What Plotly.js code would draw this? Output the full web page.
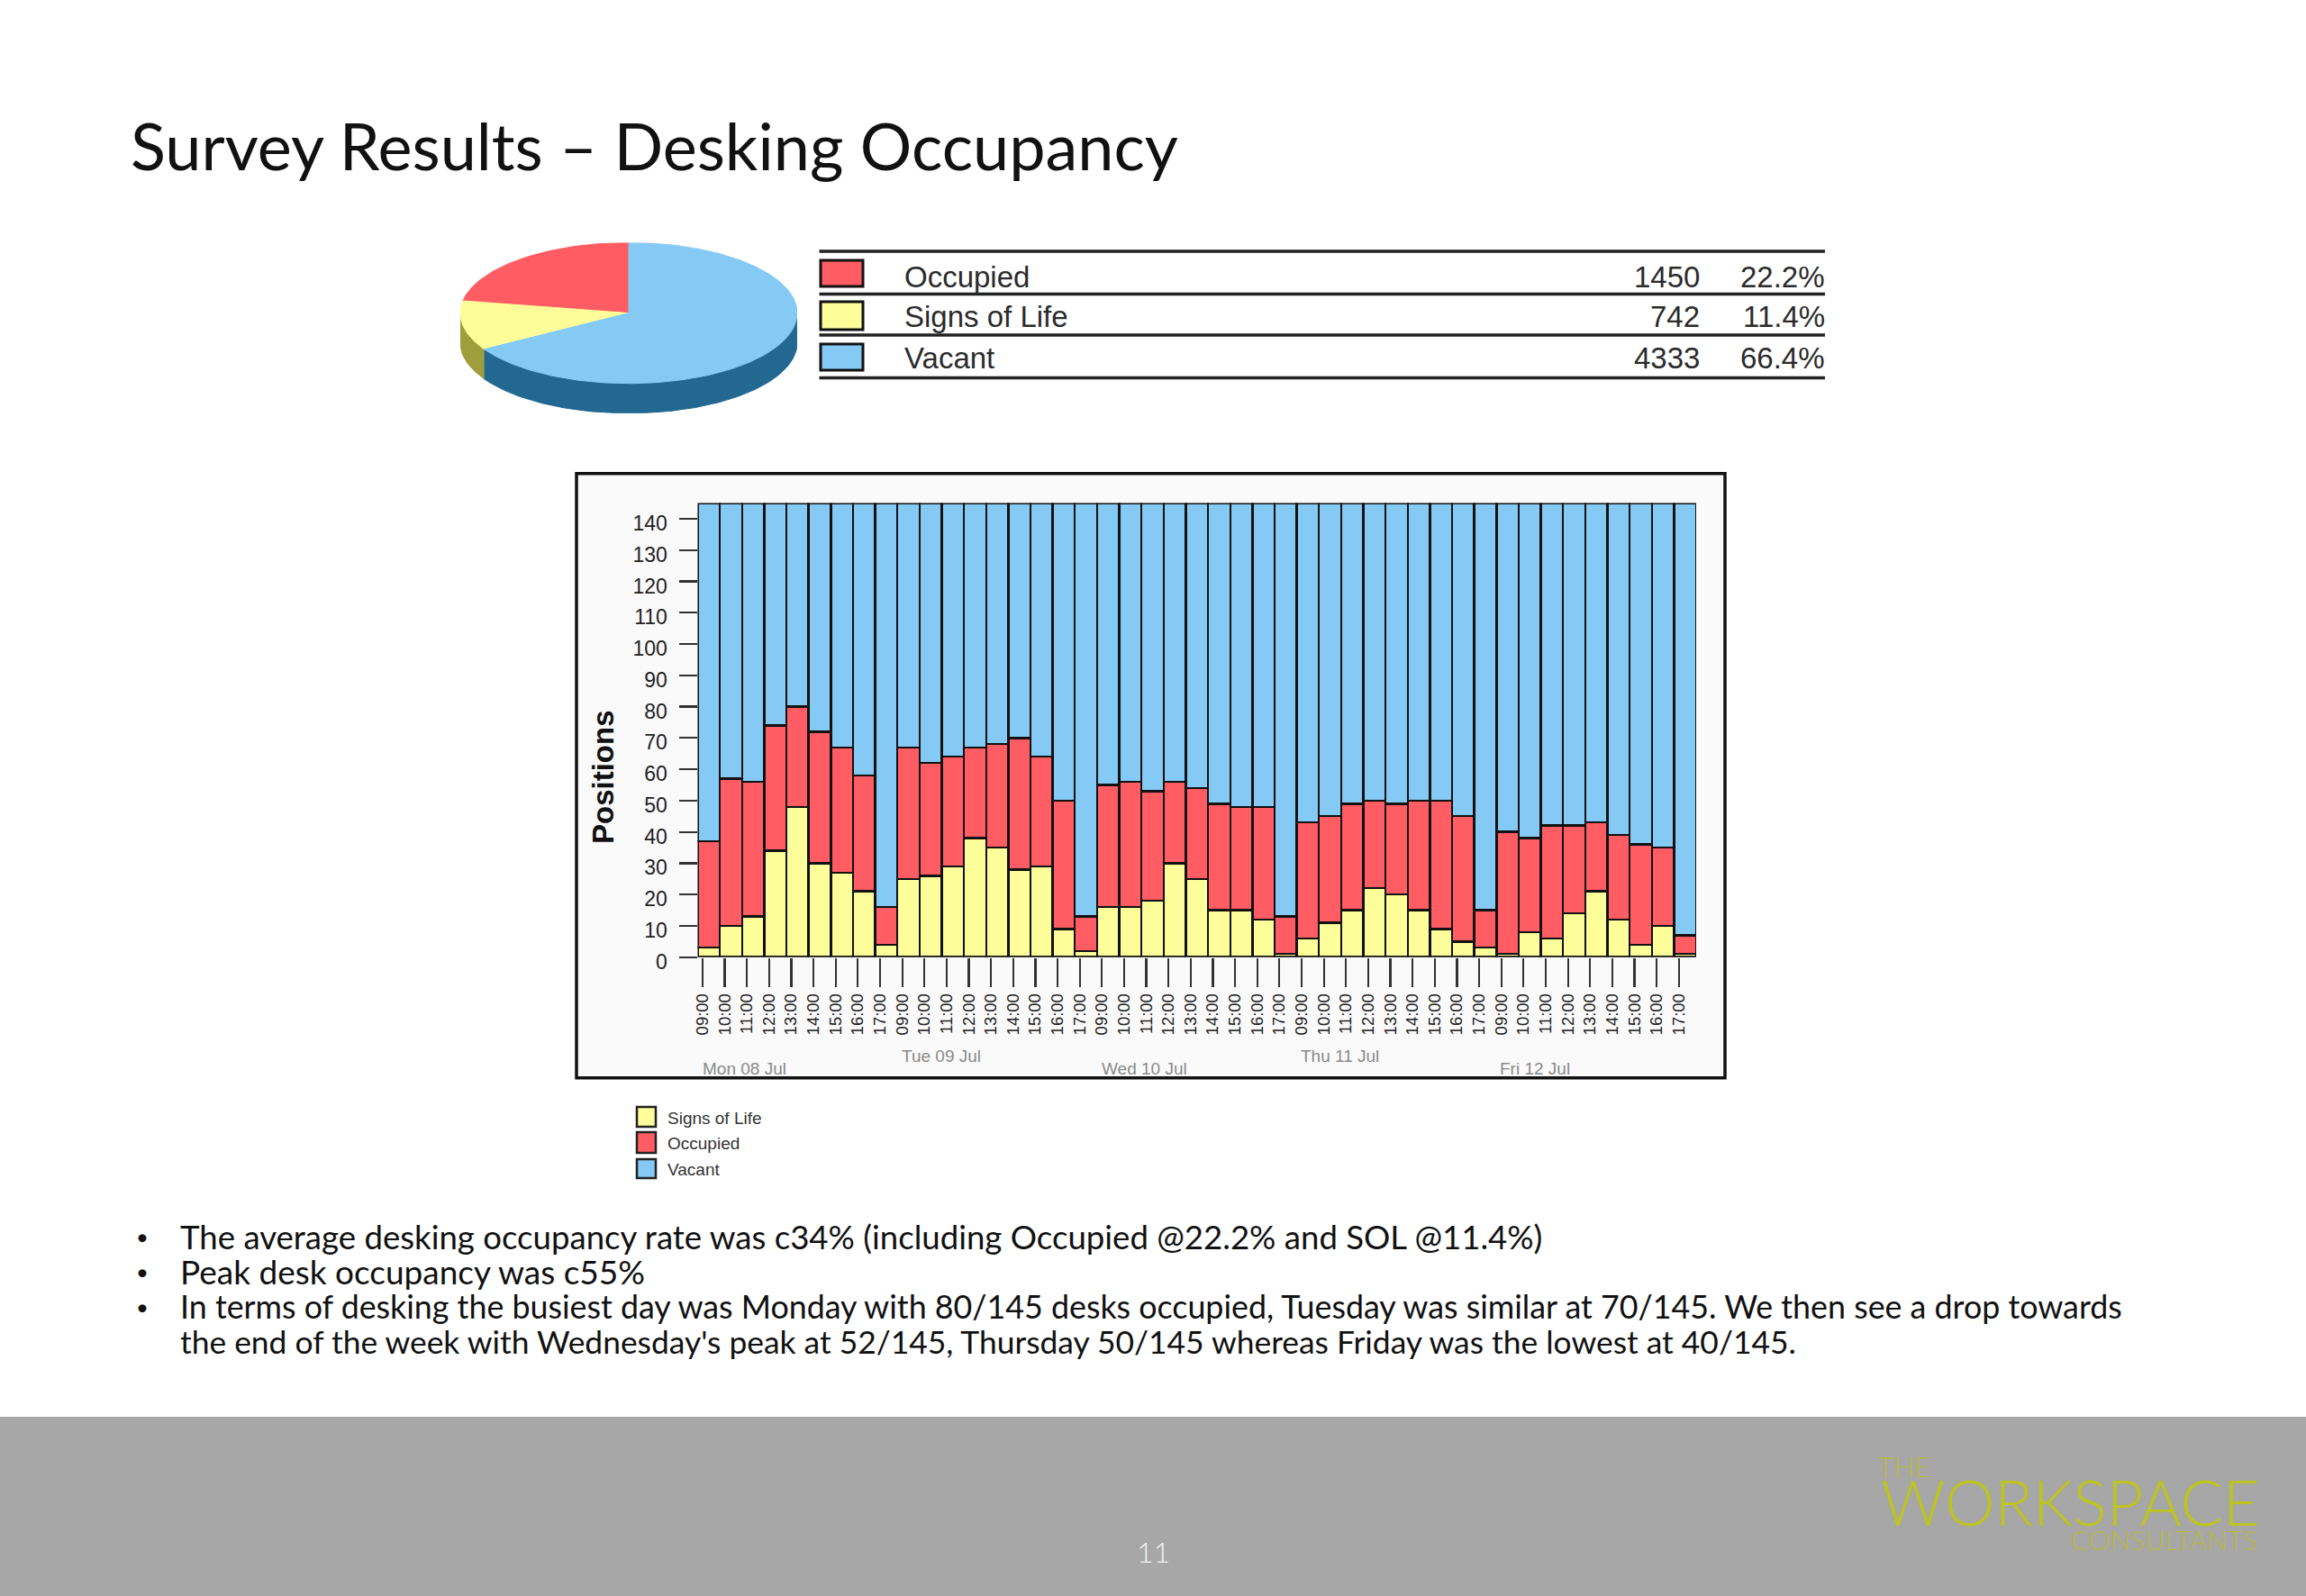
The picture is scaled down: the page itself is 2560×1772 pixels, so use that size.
<!DOCTYPE html>
<html><head><meta charset="utf-8">
<script src="https://cdn.plot.ly/plotly-3.0.1.min.js"></script>
<style>html,body{margin:0;padding:0;background:#fff}#c{width:2560px;height:1772px}</style></head>
<body><div id="c"></div>
<script>
const hours = ["09:00","10:00","11:00","12:00","13:00","14:00","15:00","16:00","17:00"];
const days = ["Mon 08 Jul","Tue 09 Jul","Wed 10 Jul","Thu 11 Jul","Fri 12 Jul"];
const signsOfLife = [3,10,13,34,48,30,27,21,4, 25,26,29,38,35,28,29,9,2, 16,16,18,30,25,15,15,12,1, 6,11,15,22,20,15,9,5,3, 1,8,6,14,21,12,4,10,1];
const occupied = [34,47,43,40,32,42,40,37,12, 42,36,35,29,33,42,35,41,11, 39,40,35,26,29,34,33,36,12, 37,34,34,28,29,35,41,40,12, 39,30,36,28,22,27,32,25,6];
const vacant = [108,88,89,71,65,73,78,87,129, 78,83,81,78,77,75,81,95,132, 90,89,92,89,91,96,97,97,132, 102,100,96,95,96,95,95,100,130, 105,107,103,103,102,106,109,110,138];
const yTicks = [0,10,20,30,40,50,60,70,80,90,100,110,120,130,140];
const summaryNames = ["Occupied","Signs of Life","Vacant"];
const summaryCounts = [1450,742,4333];
const summaryPct = ["22.2%","11.4%","66.4%"];
const legendNames = ["Signs of Life","Occupied","Vacant"];
const titleText = "Survey Results – Desking Occupancy";
const bullets = ["The average desking occupancy rate was c34% (including Occupied @22.2% and SOL @11.4%)",
 "Peak desk occupancy was c55%",
 "In terms of desking the busiest day was Monday with 80/145 desks occupied, Tuesday was similar at 70/145. We then see a drop towards",
 "the end of the week with Wednesday's peak at 52/145, Thursday 50/145 whereas Friday was the lowest at 40/145."];

const W=2560,H=1772, px=x=>x/W, py=y=>1-y/H;
const YEL="#FDFD9A",RED="#FF5C64",BLU="#85C9F5",DYEL="#9E9E3C",DBLU="#236891",INK="#2b2b2b";
const FONT="Liberation Sans, Arial, sans-serif", BODY="Lato, sans-serif";
const idx=signsOfLife.map((_,i)=>i);
const ticktext=idx.map(i=>hours[i%9]);
const TICKSHIFT=0.22;
function bar(name,y,color){return {type:'bar',name,x:idx,y,width:1,offset:-TICKSHIFT,cliponaxis:false,
  marker:{color,line:{color:'#111',width:2.4}},showlegend:false,hoverinfo:'y+name'};}
const traces=[bar("Signs of Life",signsOfLife,YEL),bar("Occupied",occupied,RED),bar("Vacant",vacant,BLU)];

// 3D pie: sectors from the summary counts, drawn on a hidden pair of axes
const total=summaryCounts.reduce((a,b)=>a+b,0);
const DEPTH=0.423;
function arc(a0,a1,dy){const n=Math.max(2,Math.ceil(Math.abs(a1-a0)/0.02));const xs=[],ys=[];
  for(let i=0;i<=n;i++){const a=a0+(a1-a0)*i/n;xs.push(-Math.sin(a));ys.push(Math.cos(a)-dy);}return [xs,ys];}
function poly(xs,ys,color,name){return {type:'scatter',mode:'lines',x:xs,y:ys,xaxis:'x2',yaxis:'y2',fill:'toself',fillcolor:color,
  line:{color:color,width:1},showlegend:false,hoverinfo:'skip',name};}
let cum=0;const angs=summaryCounts.map(v=>{const a0=cum/total*2*Math.PI;cum+=v;return [a0,cum/total*2*Math.PI];});
function side(a0,a1,color,name){const t=arc(a0,a1,0),b=arc(a1,a0,DEPTH);return poly(t[0].concat(b[0]),t[1].concat(b[1]),color,name);}
traces.push(side(Math.PI/2,angs[1][1],DYEL,"Signs of Life side"));
traces.push(side(angs[2][0],1.5*Math.PI,DBLU,"Vacant side"));
[RED,YEL,BLU].forEach((c,i)=>{const t=arc(angs[i][0],angs[i][1],0);
  traces.push(poly([0].concat(t[0],[0]),[0].concat(t[1],[0]),c,summaryNames[i]));});

const shapes=[],ann=[];
function rect(x0,y0,x1,y1,fill,lc,lw,layer){shapes.push({type:'rect',xref:'paper',yref:'paper',x0:px(x0),x1:px(x1),y0:py(y0),y1:py(y1),
  fillcolor:fill,line:{color:lc||fill,width:lw||0},layer:layer||'below'});}
function hline(x0,x1,y,c,w){shapes.push({type:'line',xref:'paper',yref:'paper',x0:px(x0),x1:px(x1),y0:py(y),y1:py(y),line:{color:c,width:w},layer:'below'});}
function text(t,x,y,size,color,anchor,font,extra){ann.push(Object.assign({text:t,xref:'paper',yref:'paper',x:px(x),y:py(y),xanchor:anchor||'left',yanchor:'middle',
  showarrow:false,align:anchor||'left',borderpad:0,font:{family:font||FONT,size,color}},extra||{}));}

// footer
rect(0,1573,W,H,"#A7A7A7");
text("11",1280,1722,32,"#f4f4f4",'center',BODY,{font:{family:BODY,size:32,color:"#f4f4f4",weight:300}});
const LOGO="#BCC41E",LOGO2="#B4BA40";
text("THE",2083,1628,31,LOGO2,'left',BODY,{font:{family:BODY,size:31,color:LOGO2,weight:300}});
text("WORKSPACE",2087,1667,70,LOGO,'left',BODY,{font:{family:BODY,size:70,color:LOGO,weight:300}});
text("CONSULTANTS",2298,1709,30,LOGO2,'left',BODY,{font:{family:BODY,size:30,color:LOGO2,weight:300}});

// chart frame
rect(640,525.7,1915,1196.7,"#FAFAFA","#111",3.5);

// title & bullets
text(titleText,144,161,72,"#111",'left',BODY);
const lineY=[1372.5,1411.5,1450.5,1489.5],lineSize=[36.6,37,35.8,35.4];
bullets.forEach((b,i)=>{if(i<3)text("•",158,lineY[i],24,"#111",'center',BODY);text(b,199,lineY[i],lineSize[i],"#111",'left',BODY);});

// summary table
[279,326.5,372,419.6].forEach(y=>hline(909.5,2026,y,"#222",3.5));
const swY=[[289,318],[335,366],[382,411]],txtY=[307,351,397],sw=[RED,YEL,BLU];
summaryNames.forEach((n,i)=>{rect(911,swY[i][0],958,swY[i][1],sw[i],"#111",3);
  text(n,1003,txtY[i],33,INK);
  text(String(summaryCounts[i]),1888,txtY[i],33,INK,'right');
  text(summaryPct[i],2027,txtY[i],33,INK,'right');});

// small legend
const lgY=[[1229,1251],[1257,1280],[1287,1308]],lgC=[YEL,RED,BLU];
legendNames.forEach((n,i)=>{rect(707,lgY[i][0],728,lgY[i][1],lgC[i],"#222",2.5);
  text(n,740,(lgY[i][0]+lgY[i][1])/2+1,19,"#333");});

// date captions + axis title
const dayX=[826,1045,1270,1487,1704],dayY=[1186,1172,1186,1172,1186];
days.forEach((d,i)=>text(d,dayX[i],dayY[i],19,"#8a8a8a",'center'));
text("Positions",669,863,33,"#111",'center',FONT,{textangle:-90,font:{family:FONT,size:33,color:"#111",weight:700}});

const layout={width:W,height:H,margin:{l:0,r:0,t:0,b:0},paper_bgcolor:'#fff',plot_bgcolor:'rgba(0,0,0,0)',barmode:'stack',bargap:0,
  xaxis:{domain:[px(774.5),px(1883)],range:[-TICKSHIFT,45-TICKSHIFT],tickmode:'array',tickvals:idx,ticktext,tickangle:-90,ticks:'outside',ticklen:32,tickwidth:2.2,tickcolor:'#333',
    tickfont:{family:FONT,size:18.5,color:'#222'},ticklabelstandoff:0,showgrid:false,zeroline:false,showline:false,fixedrange:true,anchor:'y'},
  yaxis:{domain:[py(1062.7),py(558.6)],range:[0,145],tickmode:'array',tickvals:yTicks,ticks:'outside',ticklen:20,tickwidth:2.2,tickcolor:'#333',
    tickfont:{family:FONT,size:23,color:'#222'},ticklabelshift:5,ticklabelstandoff:8,showgrid:false,zeroline:false,showline:false,fixedrange:true,anchor:'x'},
  xaxis2:{domain:[px(511),px(885)],range:[-1,1],visible:false,fixedrange:true,anchor:'y2'},
  yaxis2:{domain:[py(458.8),py(269.4)],range:[-1-DEPTH,1],visible:false,fixedrange:true,anchor:'x2'},
  shapes,annotations:ann};
Plotly.newPlot('c',traces,layout,{displayModeBar:false,staticPlot:true});
</script></body></html>
